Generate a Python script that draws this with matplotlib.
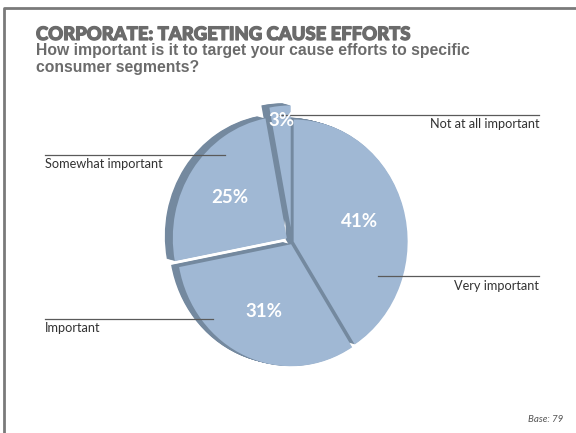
import math
import matplotlib
matplotlib.use("Agg")
import matplotlib.pyplot as plt
import matplotlib.patheffects as pe
from matplotlib.transforms import Affine2D

# Survey answers, clockwise from 12 o'clock
categories = ["Very important", "Important", "Somewhat important", "Not at all important"]
shares = [41, 31, 25, 3]
base_n = 79

W, H = 576, 433
face = "#a0b8d4"
side = "#74899f"
grey_txt = "#6b6b6b"
cond = ["Lato", "DejaVu Sans"]


def py(y):
    """Convert a top-down pixel row into the axes' bottom-up data y."""
    return H - y


fig = plt.figure(figsize=(W / 100, H / 100), dpi=100)
ax = fig.add_axes([0, 0, 1, 1])
ax.set_xlim(0, W)
ax.set_ylim(0, H)

cx, cy, r = 292, py(242), 114
stretch = 1.07  # slight vertical tilt of the disc
# slice pull-out, as a fraction of the radius
pull = [0.015, 0.02, 0.055, 0.12]
explode = [p * r for p in pull]


def tilt(patches):
    tr = Affine2D().translate(-cx, -cy).scale(1, stretch).translate(cx, cy) + ax.transData
    for p in patches:
        p.set_transform(tr)


# extruded side walls: stacked darker copies shifted back and left
steps = 10
for k in range(steps, 0, -1):
    ox = -8 * k / steps
    oy = 2 * k / steps
    w_side, _ = ax.pie(shares, explode=explode, startangle=90, counterclock=False,
                       center=(cx + ox, cy + oy), radius=r, colors=[side] * len(shares),
                       wedgeprops=dict(linewidth=0))
    tilt(w_side)

wedges, _, autotexts = ax.pie(
    shares, explode=explode, startangle=90, counterclock=False,
    center=(cx, cy), radius=r, colors=[face] * len(shares),
    wedgeprops=dict(linewidth=0), autopct="%.0f%%", pctdistance=0.6,
    textprops=dict(color="white", fontsize=13.5, fontweight="bold", family=cond))
tilt(wedges)
for t in autotexts:
    x, y = t.get_position()
    t.set_position((x, cy + (y - cy) * stretch))
# the thin slice carries its label near the rim
w3 = wedges[3]
mid = math.radians((w3.theta1 + w3.theta2) / 2)
autotexts[3].set_position((w3.center[0] + 0.88 * r * math.cos(mid),
                           cy + (w3.center[1] - cy + 0.88 * r * math.sin(mid)) * stretch))

ax.set_xlim(0, W)
ax.set_ylim(0, H)
ax.set_aspect("equal")
ax.axis("off")

# frame along the top and left edge
ax.plot([4, 4, W], [0, py(8), py(8)], color="#7a7a7a", lw=2, solid_capstyle="butt")

# title block
ax.text(36, py(26), "CORPORATE: TARGETING CAUSE EFFORTS", ha="left", va="top",
        fontsize=13.3, fontweight="black", color=grey_txt, family=cond,
        path_effects=[pe.withStroke(linewidth=0.9, foreground=grey_txt)])
ax.text(36, py(43.5), "How important is it to target your cause efforts to specific\nconsumer segments?",
        ha="left", va="top", fontsize=11.3, fontweight="bold", color=grey_txt,
        family="Liberation Sans", linespacing=1.15)

# leader lines and category labels
lab_font = dict(fontsize=9.2, color="#333333", family=cond)
leaders = [
    (categories[3], 279, 539, 115, "right"),
    (categories[0], 378, 539, 276, "right"),
    (categories[2], 45, 225, 155, "left"),
    (categories[1], 45, 213, 319, "left"),
]
for name, x0, x1, y, side_ in leaders:
    ax.plot([x0, x1], [py(y), py(y)], color="#5a5a5a", lw=0.9)
    tx = x1 if side_ == "right" else x0
    ax.text(tx, py(y + 3.5), name, ha=side_, va="top", **lab_font)

ax.text(563, py(420), f"Base: {base_n}", ha="right", va="center", fontsize=7,
        style="italic", color="#555555", family=cond)

fig.savefig("out.png", dpi=100)
